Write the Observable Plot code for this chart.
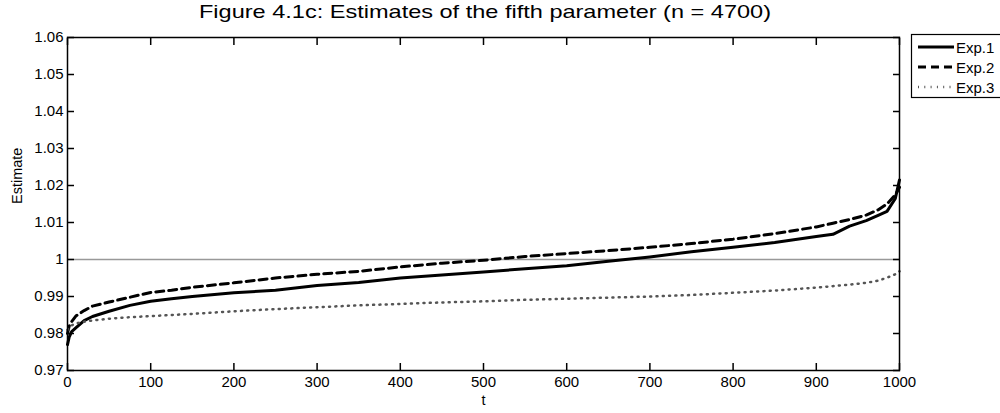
<!DOCTYPE html>
<html><head><meta charset="utf-8">
<script src="https://cdn.jsdelivr.net/npm/d3@7"></script>
<script src="https://cdn.jsdelivr.net/npm/@observablehq/plot@0.6"></script>
<style>
body{margin:0;background:#fff;font-family:"Liberation Sans",Arial,sans-serif;}
#wrap{position:relative;width:1000px;height:413px;overflow:hidden;background:#fff;}
#title{position:absolute;left:0;top:0;}
#chart{position:absolute;left:0;top:24px;}
#legend{position:absolute;left:0;top:0;}
</style>
</head><body>
<div id="wrap">
  <div id="chart"></div>
  <svg id="title" width="1000" height="24"></svg>
  <svg id="legend" width="1000" height="110"></svg>
</div>
<script>
const titleText = "Figure 4.1c: Estimates of the fifth parameter (n = 4700)";
const xLabel = "t";
const yLabel = "Estimate";
const seriesNames = ["Exp.1", "Exp.2", "Exp.3"];
const xTicks = [0, 100, 200, 300, 400, 500, 600, 700, 800, 900, 1000];
const yTicks = [0.97, 0.98, 0.99, 1, 1.01, 1.02, 1.03, 1.04, 1.05, 1.06];
const refLine = [1];

const t    = [0, 2, 5, 10, 20, 30, 50, 75, 100, 125, 150, 200, 250, 300, 350, 400, 450, 500, 550, 600, 650, 700, 750, 800, 850, 900, 920, 940, 960, 975, 985, 995, 1000];
const exp1 = [0.9770, 0.9790, 0.9805, 0.9815, 0.9835, 0.9846, 0.9860, 0.9876, 0.9887, 0.9894, 0.9900, 0.9910, 0.9917, 0.9930, 0.9938, 0.9950, 0.9958, 0.9966, 0.9975, 0.9983, 0.9995, 1.0007, 1.0021, 1.0033, 1.0046, 1.0062, 1.0068, 1.0090, 1.0105, 1.0120, 1.0130, 1.0165, 1.0215];
const exp2 = [0.9800, 0.9820, 0.9832, 0.9847, 0.9862, 0.9874, 0.9885, 0.9898, 0.9911, 0.9917, 0.9925, 0.9937, 0.9950, 0.9960, 0.9968, 0.9980, 0.9990, 0.9998, 1.0008, 1.0016, 1.0024, 1.0033, 1.0043, 1.0055, 1.0070, 1.0088, 1.0098, 1.0108, 1.0120, 1.0135, 1.0150, 1.0175, 1.0195];
const exp3 = [0.9810, 0.9815, 0.9822, 0.9827, 0.9832, 0.9835, 0.9840, 0.9844, 0.9847, 0.9850, 0.9853, 0.9860, 0.9866, 0.9871, 0.9876, 0.9880, 0.9884, 0.9887, 0.9891, 0.9894, 0.9897, 0.9900, 0.9904, 0.9910, 0.9916, 0.9924, 0.9928, 0.9932, 0.9937, 0.9943, 0.9951, 0.9960, 0.9968];

const styles = [
  {stroke: "#000", strokeWidth: 3, strokeDasharray: null},
  {stroke: "#000", strokeWidth: 3, strokeDasharray: "8,5"},
  {stroke: "#555", strokeWidth: 2.5, strokeDasharray: "1,5.3"}
];

const seriesVals = [exp1, exp2, exp3];
const tables = seriesVals.map(vals => t.map((x, i) => ({t: x, v: vals[i]})));

const fmt = d => String(d);
const FS = 15;

const chart = Plot.plot({
  width: 1000,
  height: 389,
  marginLeft: 67,
  marginRight: 101,
  marginTop: 13,
  marginBottom: 43,
  style: {fontFamily: "'Liberation Sans', Arial, sans-serif", fontSize: FS + "px", background: "transparent", color: "#000"},
  x: {domain: [0, 1000]},
  y: {domain: [0.97, 1.06]},
  marks: [
    Plot.ruleY(refLine, {y: d => d, stroke: "#999", strokeWidth: 1.5}),
    ...tables.map((tb, i) => Plot.line(tb, {x: "t", y: "v", stroke: styles[i].stroke, strokeWidth: styles[i].strokeWidth, strokeDasharray: styles[i].strokeDasharray, strokeLinejoin: "round"})),
    Plot.frame({stroke: "#000", strokeWidth: 1.5}),
    Plot.axisX({anchor: "bottom", ticks: xTicks, tickSize: 7, insetBottom: 7, tickPadding: 6, strokeWidth: 1.5, tickFormat: fmt, label: null, fontSize: FS}),
    Plot.axisX({anchor: "top", ticks: xTicks, tickSize: 7, insetTop: 7, strokeWidth: 1.5, fill: "none", label: null}),
    Plot.axisY({anchor: "left", ticks: yTicks, tickSize: 7, insetLeft: 7, tickPadding: 4, strokeWidth: 1.5, tickFormat: fmt, label: null, fontSize: FS}),
    Plot.axisY({anchor: "right", ticks: yTicks, tickSize: 7, insetRight: 7, strokeWidth: 1.5, fill: "none", label: null}),
    Plot.text([xLabel], {text: d => d, frameAnchor: "bottom", dy: 34, fontSize: 14.5}),
    Plot.text([yLabel], {text: d => d, frameAnchor: "left", dx: -50, rotate: -90, fontSize: 14.5})
  ]
});
document.getElementById("chart").appendChild(chart);

// Title
const tsvg = d3.select("#title");
tsvg.append("text")
  .attr("x", 485).attr("y", 18)
  .attr("text-anchor", "middle")
  .attr("font-family", "'Liberation Sans', Arial, sans-serif")
  .attr("font-size", 19)
  .attr("textLength", 572)
  .attr("lengthAdjust", "spacingAndGlyphs")
  .text(titleText);

// Legend
const lg = d3.select("#legend");
lg.append("rect").attr("x", 911.5).attr("y", 34.5).attr("width", 100).attr("height", 63)
  .attr("fill", "#fff").attr("stroke", "#000").attr("stroke-width", 1.2);
seriesNames.forEach((name, i) => {
  const y = 47 + i * 20;
  lg.append("line").attr("x1", 918).attr("x2", 954).attr("y1", y).attr("y2", y)
    .attr("stroke", styles[i].stroke).attr("stroke-width", styles[i].strokeWidth)
    .attr("stroke-dasharray", styles[i].strokeDasharray);
  lg.append("text").attr("x", 956).attr("y", y + 5.5)
    .attr("font-family", "'Liberation Sans', Arial, sans-serif")
    .attr("font-size", 15).text(name);
});
</script>
</body></html>
